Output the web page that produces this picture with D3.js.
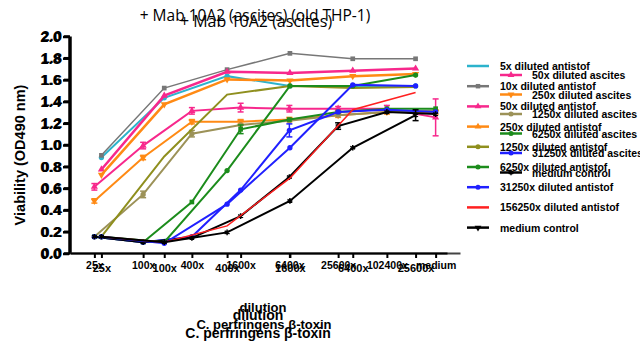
<!DOCTYPE html>
<html>
<head>
<meta charset="utf-8">
<script src="https://cdn.jsdelivr.net/npm/d3@7"></script>
<style>
  body { margin: 0; background: #fff; }
  text { font-family: 'Liberation Sans', Arial, sans-serif; }
</style>
</head>
<body>
<div id="chart"></div>
<script>
// tick labels
const yTicks = [0, 0.2, 0.4, 0.6, 0.8, 1.0, 1.2, 1.4, 1.6, 1.8, 2.0];
const dilutionsAnti = ['25x', '100x', '400x', '1600x', '6400x', '25600x'];
const dilutionsAsc = ['25x', '100x', '400x', '1600x', '6400x', '25600x', '102400x', 'medium'];

// antistof series (6 dilutions)
const anti5x      = [0.88, 1.43, 1.63, 1.54, 1.54, 1.54];
const anti10x     = [0.90, 1.52, 1.69, 1.84, 1.79, 1.79];
const anti50x     = [0.77, 1.45, 1.67, 1.66, 1.68, 1.70];
const anti250x    = [0.72, 1.37, 1.60, 1.59, 1.63, 1.65];
const anti1250x   = [0.15, 0.89, 1.46, 1.54, 1.52, 1.53];
const anti6250x   = [0.15, 0.10, 0.76, 1.54, 1.54, 1.64];
const anti31250x  = [0.15, 0.09, 0.45, 0.97, 1.55, 1.54];
const anti156250x = [0.15, 0.10, 0.25, 0.69, 1.32, 1.48];
const antiMedium  = [0.15, 0.10, 0.19, 0.48, 0.97, 1.27];
const antiMediumErr = [0, 0, 0, 0, 0, 0.05];

// ascites series (8 dilutions)
const asc50x     = [0.61, 0.99, 1.31, 1.34, 1.33, 1.33, 1.33, 1.25];
const asc50xErr  = [0.03, 0.03, 0.03, 0.04, 0.03, 0.02, 0.03, 0.17];
const asc250x    = [0.48, 0.88, 1.21, 1.21, 1.23, 1.27, 1.30, 1.30];
const asc250xErr = [0.02, 0.02, 0.02, 0.02, 0.02, 0.02, 0.02, 0.02];
const asc1250x   = [0.15, 0.54, 1.10, 1.18, 1.22, 1.27, 1.30, 1.31];
const asc1250xErr = [0, 0.03, 0.03, 0, 0, 0, 0, 0];
const asc6250x   = [0.15, 0.10, 0.47, 1.14, 1.23, 1.30, 1.33, 1.33];
const asc6250xErr = [0, 0, 0, 0.04, 0, 0, 0, 0];
const asc31250x  = [0.15, 0.10, 0.15, 0.58, 1.13, 1.30, 1.32, 1.30];
const asc31250xErr = [0, 0, 0, 0, 0.06, 0, 0, 0];
const ascMedium  = [0.15, 0.10, 0.14, 0.34, 0.70, 1.17, 1.30, 1.28];
const ascMediumErr = [0, 0, 0, 0, 0, 0.03, 0, 0];

const asterisk = d3.symbolAsterisk || d3.symbolCross;

const antiSeries = [
    { name: '5x diluted antistof', values: anti5x, color: '#2cb3cc', symbol: d3.symbolCircle, legendSymbol: null, width: 2 },
    { name: '10x diluted antistof', values: anti10x, color: '#777777', symbol: d3.symbolSquare, legendSymbol: d3.symbolSquare, width: 1.5 },
    { name: '50x diluted antistof', values: anti50x, color: '#f7288c', symbol: d3.symbolTriangle, legendSymbol: d3.symbolTriangle, width: 2.5 },
    { name: '250x diluted antistof', values: anti250x, color: '#ff8a14', symbol: d3.symbolTriangle, flip: true, legendSymbol: d3.symbolTriangle, width: 2.5 },
    { name: '1250x diluted antistof', values: anti1250x, color: '#8f8f1e', symbol: null, legendSymbol: d3.symbolCircle, width: 2 },
    { name: '6250x diluted antistof', values: anti6250x, color: '#1c8c1c', symbol: d3.symbolCircle, legendSymbol: d3.symbolCircle, width: 2 },
    { name: '31250x diluted antistof', values: anti31250x, color: '#2020ff', symbol: d3.symbolCircle, legendSymbol: d3.symbolCircle, width: 2 },
    { name: '156250x diluted antistof', values: anti156250x, color: '#ff2020', symbol: null, legendSymbol: null, width: 1.5 },
    { name: 'medium control', values: antiMedium, errors: antiMediumErr, color: '#000000', symbol: asterisk, stroke: true, legendSymbol: d3.symbolTriangle, legendFlip: true, width: 2 }
];

const ascSeries = [
    { name: '50x diluted ascites', values: asc50x, errors: asc50xErr, color: '#f7288c', symbol: d3.symbolTriangle, legendSymbol: d3.symbolTriangle, width: 2 },
    { name: '250x diluted ascites', values: asc250x, errors: asc250xErr, color: '#ff8a14', symbol: d3.symbolTriangle, flip: true, legendSymbol: d3.symbolTriangle, legendFlip: true, width: 2 },
    { name: '1250x diluted ascites', values: asc1250x, errors: asc1250xErr, color: '#9c9258', symbol: d3.symbolCircle, legendSymbol: d3.symbolCircle, width: 2 },
    { name: '6250x diluted ascites', values: asc6250x, errors: asc6250xErr, color: '#1c8c1c', symbol: d3.symbolSquare, legendSymbol: d3.symbolCircle, width: 2 },
    { name: '31250x diluted ascites', values: asc31250x, errors: asc31250xErr, color: '#2020ff', symbol: d3.symbolCircle, legendSymbol: d3.symbolCircle, width: 2 },
    { name: 'medium control', values: ascMedium, errors: ascMediumErr, color: '#000000', symbol: asterisk, stroke: true, legendSymbol: asterisk, legendStroke: true, width: 2 }
];

const svg = d3.select('#chart')
    .append('svg')
    .attr('width', 640)
    .attr('height', 341);

const y = d3.scaleLinear().domain([0, 2]).range([253, 36]);
const xAnti = d3.scalePoint().domain(dilutionsAnti).range([70, 447]).padding(0.5);
const xAsc = d3.scalePoint().domain(dilutionsAsc).range([70, 460]).padding(0.5);

// titles
svg.append('text')
    .attr('x', 255).attr('y', 21)
    .attr('text-anchor', 'middle')
    .style('font-family', "'Open Sans', sans-serif")
    .style('font-size', '15.5px')
    .text('+ Mab 10A2 (ascites) (old THP-1)');
svg.append('text')
    .attr('x', 256).attr('y', 27)
    .attr('text-anchor', 'middle')
    .style('font-family', "'Open Sans', sans-serif")
    .style('font-size', '16px')
    .text('+ Mab 10A2 (ascites)');

// y axes, drawn twice with a small offset
[[0, 0], [-1, 0.5]].forEach(([dx, dy]) => {
    svg.append('g')
        .attr('transform', `translate(${70 + dx},${dy})`)
        .call(d3.axisLeft(y).tickValues(yTicks).tickFormat(d3.format('.1f')).tickSize(6).tickSizeOuter(0).tickPadding(2))
        .call(g => g.select('.domain').attr('stroke-width', 2.5))
        .call(g => g.selectAll('.tick line').attr('stroke-width', 2.5))
        .call(g => g.selectAll('text').style('font-size', '15px').style('font-weight', 'bold'));
});

svg.append('text')
    .attr('transform', 'translate(25,155) rotate(-90)')
    .attr('text-anchor', 'middle')
    .style('font-size', '14.5px')
    .style('font-weight', 'bold')
    .text('Viability (OD490 nm)');

// x axes
svg.append('g')
    .attr('transform', 'translate(0,253)')
    .call(d3.axisBottom(xAsc).tickSize(5).tickSizeOuter(0).tickPadding(4))
    .call(g => g.select('.domain').attr('stroke-width', 2).attr('stroke', '#444'))
    .call(g => g.selectAll('.tick line').attr('stroke-width', 2))
    .call(g => g.selectAll('text').style('font-size', '10.5px').style('font-weight', 'bold'));

svg.append('g')
    .attr('transform', 'translate(0,253)')
    .call(d3.axisBottom(xAnti).tickSize(5).tickSizeOuter(0).tickPadding(6))
    .call(g => g.select('.domain').attr('stroke-width', 2))
    .call(g => g.selectAll('.tick line').attr('stroke-width', 2))
    .call(g => g.selectAll('text').style('font-size', '11px').style('font-weight', 'bold'));

// x axis titles
svg.append('text').attr('x', 263).attr('y', 312).attr('text-anchor', 'middle')
    .style('font-size', '13px').style('font-weight', 'bold').text('dilution');
svg.append('text').attr('x', 258).attr('y', 320).attr('text-anchor', 'middle')
    .style('font-size', '14px').style('font-weight', 'bold').text('dilution');
svg.append('text').attr('x', 264).attr('y', 329).attr('text-anchor', 'middle')
    .style('font-size', '13px').style('font-weight', 'bold').text('C. perfringens β-toxin');
svg.append('text').attr('x', 258).attr('y', 338).attr('text-anchor', 'middle')
    .style('font-size', '14px').style('font-weight', 'bold').text('C. perfringens β-toxin');

function drawMarker(g, symbolType, cx, cy, color, flip, stroke, size) {
    if (!symbolType) return;
    g.append('path')
        .attr('d', d3.symbol().type(symbolType).size(size)())
        .attr('transform', `translate(${cx},${cy})${flip ? ' rotate(180)' : ''}`)
        .attr('fill', stroke ? 'none' : color)
        .attr('stroke', stroke ? color : 'none')
        .attr('stroke-width', stroke ? 1.5 : 0);
}

function drawSeries(series, x, categories) {
    series.forEach(s => {
        const g = svg.append('g');
        const pts = s.values.map((v, i) => [x(categories[i]), y(v), i]);

        g.append('path')
            .datum(pts)
            .attr('d', d3.line().x(d => d[0]).y(d => d[1]))
            .attr('fill', 'none')
            .attr('stroke', s.color)
            .attr('stroke-width', s.width);

        if (s.errors) {
            pts.forEach(([px, py, i]) => {
                const e = s.errors[i];
                if (!e) return;
                const top = y(s.values[i] + e);
                const bottom = y(s.values[i] - e);
                g.append('line').attr('x1', px).attr('x2', px).attr('y1', top).attr('y2', bottom)
                    .attr('stroke', s.color).attr('stroke-width', 1.5);
                [top, bottom].forEach(yy => g.append('line')
                    .attr('x1', px - 3).attr('x2', px + 3).attr('y1', yy).attr('y2', yy)
                    .attr('stroke', s.color).attr('stroke-width', 1.5));
            });
        }

        pts.forEach(([px, py]) => drawMarker(g, s.symbol, px, py, s.color, s.flip, s.stroke, 22));
    });
}

drawSeries(ascSeries, xAsc, dilutionsAsc);
drawSeries(antiSeries, xAnti, dilutionsAnti);

// legends
function drawLegend(series, lineX, textX, startY, step) {
    series.forEach((s, i) => {
        const cy = startY + i * step;
        const g = svg.append('g');
        g.append('line')
            .attr('x1', lineX).attr('x2', lineX + 22)
            .attr('y1', cy).attr('y2', cy)
            .attr('stroke', s.color).attr('stroke-width', 2.5);
        drawMarker(g, s.legendSymbol, lineX + 11, cy, s.color, s.legendFlip, s.legendStroke, 20);
        g.append('text')
            .attr('x', textX).attr('y', cy + 4)
            .style('font-size', '10.5px')
            .style('font-weight', 'bold')
            .text(s.name);
    });
}

drawLegend(antiSeries, 467, 500, 66, 20.2);
drawLegend(ascSeries, 500, 532, 75, 19.5);
</script>
</body>
</html>
